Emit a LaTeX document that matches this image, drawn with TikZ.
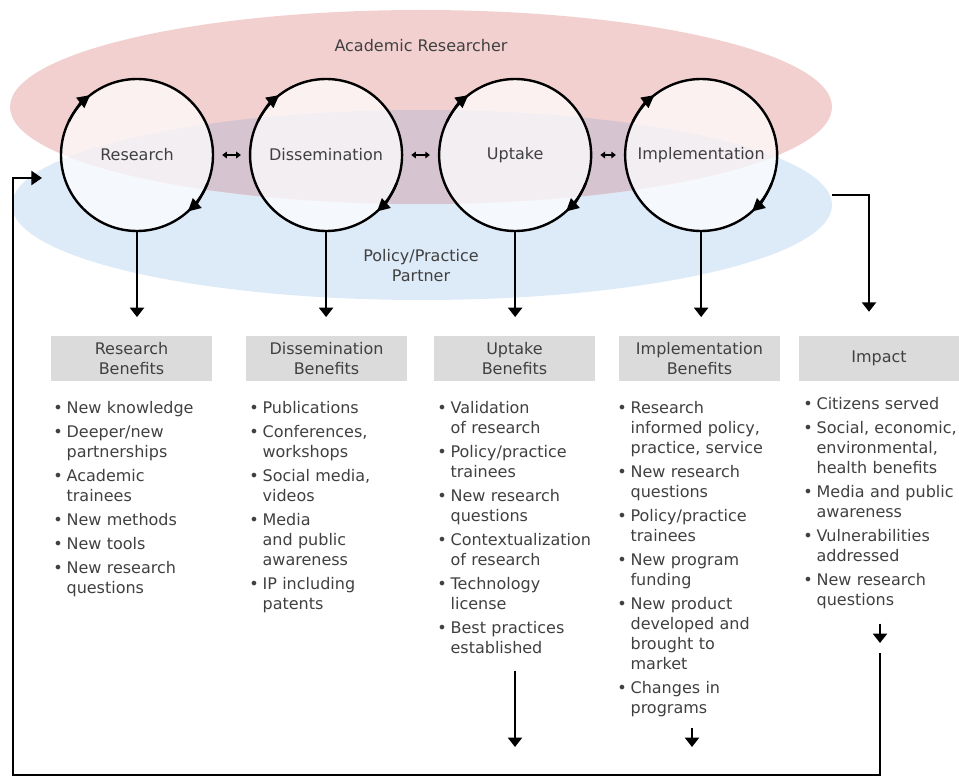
\documentclass[tikz,border=0pt]{standalone}
\usepackage{fontspec}
\setmainfont{DejaVu Sans}
\usepackage{tikz}
\usetikzlibrary{arrows.meta, positioning, shapes}
\usetikzlibrary{shapes.geometric}
\usepackage{xcolor}

\definecolor{acadred}{RGB}{242,208,208}
\definecolor{partblue}{RGB}{221,234,248}
\definecolor{bothmix}{RGB}{214,197,208}
\definecolor{hdrgray}{RGB}{219,219,219}
\definecolor{txtgray}{RGB}{64,64,64}
\newcommand{\bul}[1]{\hangindent=10pt\hangafter=1\noindent\makebox[10pt][l]{\textbullet}#1\par}

\begin{document}
\begin{tikzpicture}[x=0.75pt, y=0.75pt, font=\fontsize{12}{15}\selectfont, text=txtgray]
            \tikzstyle{role} = [ellipse, inner sep=0pt, minimum width=615pt, minimum height=142.5pt]
            \tikzstyle{stage} = [circle, draw=black, line width=1.8pt, fill=white, fill opacity=0.72, text opacity=1, minimum size=114pt, inner sep=0pt]
            \tikzstyle{header} = [rectangle, fill=hdrgray, minimum width=120.75pt, minimum height=33.75pt, align=center, inner sep=0pt]
            \tikzstyle{benefits} = [anchor=base west, text width=125pt, inner sep=0pt, execute at begin node={\let\\\newline\setlength{\parskip}{3pt}}]
            \tikzstyle{turn} = [draw=black, line width=1.8pt, -{Triangle[length=9.5pt, width=9.5pt]}]
            \tikzstyle{link} = [draw=black, line width=1.2pt, {Triangle[length=3.5pt, width=5pt]}-{Triangle[length=3.5pt, width=5pt]}, shorten <=6pt, shorten >=6pt]
            \tikzstyle{line} = [draw=black, line width=1.5pt, -{Triangle[length=7pt, width=10.5pt]}]
            \tikzstyle{loopline} = [draw=black, line width=1.8pt, -{Triangle[length=8pt, width=10.5pt]}]

            \useasboundingbox (0,0) rectangle (959,-777);

            % 两个角色
            \node[role, fill=partblue] (partner) at (422,-205) {};
            \node[role, fill=acadred, minimum width=616.5pt, minimum height=145.5pt] (academic) at (421,-107) {};
            \begin{scope}
                \clip (partner.center) ellipse [x radius=307.5pt, y radius=71.25pt];
                \fill[bothmix] (academic.center) ellipse [x radius=308.25pt, y radius=72.75pt];
            \end{scope}
            \node (acadlabel) at (421,-46) {Academic Researcher};
            \node[align=center] (partlabel) at (421,-266) {Policy/Practice\\Partner};

            % 四个阶段
            \node[stage] (research) at (137,-155) {Research};
            \node[stage, right=26pt of research] (dissem) {Dissemination};
            \node[stage, right=26pt of dissem] (uptake) {Uptake};
            \node[stage, right=23.7pt of uptake] (impl) {Implementation};

            % 循环箭头
            \draw[turn] ([shift={(154:57pt)}]research.center) arc[start angle=154, end angle=128, radius=57pt];
            \draw[turn] ([shift={(-22:57pt)}]research.center) arc[start angle=-22, end angle=-48, radius=57pt];
            \draw[turn] ([shift={(154:57pt)}]dissem.center) arc[start angle=154, end angle=128, radius=57pt];
            \draw[turn] ([shift={(-22:57pt)}]dissem.center) arc[start angle=-22, end angle=-48, radius=57pt];
            \draw[turn] ([shift={(154:57pt)}]uptake.center) arc[start angle=154, end angle=128, radius=57pt];
            \draw[turn] ([shift={(-22:57pt)}]uptake.center) arc[start angle=-22, end angle=-48, radius=57pt];
            \draw[turn] ([shift={(154:57pt)}]impl.center) arc[start angle=154, end angle=128, radius=57pt];
            \draw[turn] ([shift={(-22:57pt)}]impl.center) arc[start angle=-22, end angle=-48, radius=57pt];

            \path[link] (research) -- (dissem);
            \path[link] (dissem) -- (uptake);
            \path[link] (uptake) -- (impl);

            % 收益标题
            \node[header] (resbox) at (131.5,-358.5) {Research\\Benefits};
            \node[header] (disbox) at (326.5,-358.5) {Dissemination\\Benefits};
            \node[header] (upbox) at (514.5,-358.5) {Uptake\\Benefits};
            \node[header] (implbox) at (699.5,-358.5) {Implementation\\Benefits};
            \node[header] (impbox) at (879,-358.5) {Impact};

            % 添加箭头
            \path[line] (research.south) -- (research.south |- resbox.north) [shorten >=14pt];
            \path[line] (dissem.south) -- (dissem.south |- disbox.north) [shorten >=14pt];
            \path[line] (uptake.south) -- (uptake.south |- upbox.north) [shorten >=14pt];
            \path[line] (impl.south) -- (impl.south |- implbox.north) [shorten >=14pt];
            \path[line, shorten >=18pt] ([yshift=7.5pt]partner.east) -| ([xshift=-7.5pt]impbox.north);

            % 收益列表
            \node[benefits] (reslist) at (53,-413) {%
                \bul{New knowledge}
                \bul{Deeper/new\\partnerships}
                \bul{Academic\\trainees}
                \bul{New methods}
                \bul{New tools}
                \bul{New research\\questions}};
            \node[benefits] (dislist) at (249,-413) {%
                \bul{Publications}
                \bul{Conferences,\\workshops}
                \bul{Social media,\\videos}
                \bul{Media\\and public\\awareness}
                \bul{IP including\\patents}};
            \node[benefits] (uplist) at (437,-413) {%
                \bul{Validation\\of research}
                \bul{Policy/practice\\trainees}
                \bul{New research\\questions}
                \bul{Contextualization\\of research}
                \bul{Technology\\license}
                \bul{Best practices\\established}};
            \node[benefits] (impllist) at (617,-413) {%
                \bul{Research\\informed policy,\\practice, service}
                \bul{New research\\questions}
                \bul{Policy/practice\\trainees}
                \bul{New program\\funding}
                \bul{New product\\developed and\\brought to\\market}
                \bul{Changes in\\programs}};
            \node[benefits] (implist) at (803,-409) {%
                \bul{Citizens served}
                \bul{Social, economic,\\environmental,\\health benefits}
                \bul{Media and public\\awareness}
                \bul{Vulnerabilities\\addressed}
                \bul{New research\\questions}};

            % 反馈回路
            \coordinate (upout) at (515,-747);
            \coordinate (implout) at (692,-747);
            \coordinate (impout) at (880,-643);
            \coordinate (fbstart) at (880,-653);
            \coordinate (fbend) at (42,-178);
            \path[line] (upout |- uplist.south) ++(0,-17) -- (upout);
            \path[line] (implout |- impllist.south) ++(0,-11) -- (implout);
            \path[line] (impout |- implist.south) ++(0,-15) -- (impout);
            \path[loopline] (fbstart) -- ++(0,-122) -| ([xshift=-21.75pt]fbend) -- (fbend);
        \end{tikzpicture}
\end{document}
